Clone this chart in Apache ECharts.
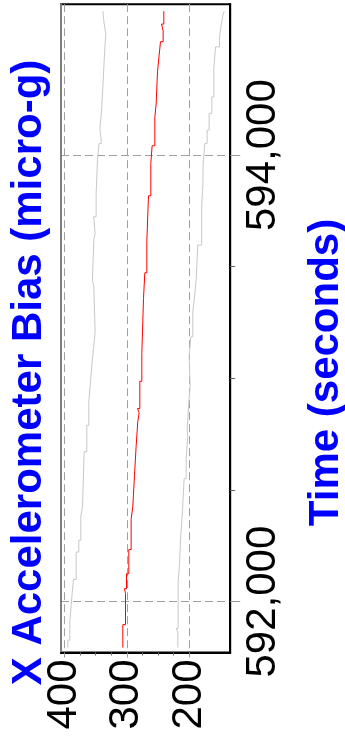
<!DOCTYPE html>
<html><head><meta charset="utf-8">
<script src="https://cdn.jsdelivr.net/npm/echarts@6/dist/echarts.min.js"></script>
<style>html,body{margin:0;padding:0;background:#fff}#c{width:345px;height:740px}</style>
</head><body><div id="c"></div>
<script>
// Axis ranges and tick labels
const timeTicks = [592000, 594000];
const biasTicks = [200, 300, 400];
const timeRange = [591772, 594676];
const biasRange = [134.6, 405.3];
const xTitle = 'Time (seconds)';
const yTitle = 'X Accelerometer Bias (micro-g)';

// Bias estimate (red): start time of each level, level (micro-g)
const estTimes = [591794, 591897, 592036, 592058, 592125, 592233, 592369, 592427, 592566, 592696, 592808, 592845, 592865, 592987, 593111, 593358, 593473, 593612, 593818, 593963, 594042, 594169, 594229, 594373, 594448, 594508, 594557, 594587];
const estLevels = [306.4, 302.1, 303.7, 300.5, 296.8, 293.1, 290.4, 287.7, 285.1, 282.4, 280.3, 282.9, 279.2, 276, 273.3, 271.2, 268, 265.3, 261.6, 259.5, 255.2, 253.1, 250.9, 248.3, 246.1, 241.9, 244.5, 240.8];
const endTime = 594645;

// Upper bound (grey)
const upTimes = [591794, 591827, 591909, 591983, 592036, 592099, 592222, 592275, 592382, 592427, 592671, 592790, 592895, 592984, 593074, 593149, 593208, 593410, 593440, 593622, 593649, 593724, 593828, 593981, 594052, 594067, 594120, 594194, 594329, 594456, 594545, 594590];
const upLevels = [394.4, 391.2, 389, 387.5, 385.3, 381.1, 376.8, 373.6, 370.9, 368.3, 364, 360.8, 358.1, 355.5, 352.8, 350.7, 352.8, 355, 352.8, 350.7, 353, 349.1, 346.9, 344.3, 341, 343.2, 340.5, 337.9, 335.7, 333.6, 336.3, 338.4];

// Lower bound (grey)
const loTimes = [591794, 591864, 591879, 592088, 592170, 592297, 592409, 592551, 592641, 592738, 592768, 592895, 592962, 593096, 593186, 593298, 593365, 593440, 593597, 593776, 593858, 593963, 594052, 594112, 594187, 594261, 594388, 594485, 594530, 594580, 594625];
const loLevels = [218.4, 221.1, 217.9, 215.7, 213.6, 210.9, 208.3, 205.1, 202.4, 203.5, 200.8, 198.7, 200.3, 197.6, 194.4, 191.7, 189.1, 186.4, 180.2, 178.4, 177.9, 175.2, 171.5, 168.3, 164, 160.8, 158.1, 151.7, 149.1, 146.4, 144.3];

function steps(times, levels, end) {
  const pts = [];
  for (let i = 0; i < times.length; i++) {
    const t1 = i + 1 < times.length ? times[i + 1] : end;
    pts.push([levels[i], times[i]], [levels[i], t1]);
  }
  return pts;
}

const FONT = '"Liberation Sans", Arial, sans-serif';
const G = { left: 61, top: 4.2, width: 169.2, height: 648.3 };
const bSpan = biasRange[1] - biasRange[0];
const tSpan = timeRange[1] - timeRange[0];
const bMin = biasTicks[0], bMax = biasTicks[biasTicks.length - 1];
const tMin = timeTicks[0], tMax = timeTicks[timeTicks.length - 1];
const g1 = { left: G.left + (biasRange[1] - bMax) / bSpan * G.width, width: (bMax - bMin) / bSpan * G.width, top: G.top, height: G.height };
const g2 = { left: G.left, width: G.width, top: G.top + (timeRange[1] - tMax) / tSpan * G.height, height: (tMax - tMin) / tSpan * G.height };

const gridDash = { color: '#a0a0a0', type: [8, 4], width: 1 };
const chart = echarts.init(document.getElementById('c'), null, { renderer: 'canvas' });
chart.setOption({
  animation: false,
  backgroundColor: '#fff',
  grid: [
    Object.assign({ show: true, borderColor: '#000', borderWidth: 2, backgroundColor: 'transparent', containLabel: false, outerBoundsMode: 'none' }, G),
    Object.assign({ containLabel: false, outerBoundsMode: 'none' }, g1),
    Object.assign({ containLabel: false, outerBoundsMode: 'none' }, g2)
  ],
  xAxis: [
    { gridIndex: 0, type: 'value', inverse: true, min: biasRange[0], max: biasRange[1], minInterval: 100, maxInterval: 100,
      axisLine: { show: true, lineStyle: { color: '#000', width: 2 } }, axisTick: { show: false }, axisLabel: { show: false },
      splitLine: { show: true, showMinLine: false, showMaxLine: false, lineStyle: gridDash } },
    { gridIndex: 1, type: 'value', inverse: true, min: bMin, max: bMax, interval: 100, position: 'bottom',
      axisLine: { show: false }, splitLine: { show: false },
      axisTick: { show: true, length: 5, lineStyle: { color: '#999', width: 1 } },
      minorTick: { show: true, splitNumber: 4, length: 3, lineStyle: { color: '#666', width: 1 } },
      axisLabel: { show: true, rotate: 90, margin: 7, fontSize: 42, color: '#000', fontFamily: FONT } },
    { gridIndex: 2, type: 'value', show: false, inverse: true, min: biasRange[0], max: biasRange[1] }
  ],
  yAxis: [
    { gridIndex: 0, type: 'value', position: 'right', min: timeRange[0], max: timeRange[1], minInterval: 2000, maxInterval: 2000,
      axisLine: { show: true, lineStyle: { color: '#000', width: 2 } }, axisTick: { show: false }, axisLabel: { show: false },
      splitLine: { show: true, showMinLine: false, showMaxLine: false, lineStyle: gridDash } },
    { gridIndex: 0, type: 'value', position: 'left', min: timeRange[0], max: timeRange[1],
      axisLine: { show: true, lineStyle: { color: '#808080', width: 2 } }, axisTick: { show: false }, axisLabel: { show: false }, splitLine: { show: false } },
    { gridIndex: 1, type: 'value', show: false, min: timeRange[0], max: timeRange[1] },
    { gridIndex: 2, type: 'value', position: 'right', min: tMin, max: tMax, interval: 2000,
      axisLine: { show: false }, splitLine: { show: false },
      axisTick: { show: true, length: 10, lineStyle: { color: '#999', width: 1 } },
      minorTick: { show: true, splitNumber: 4, length: 5, lineStyle: { color: '#666', width: 1 } },
      axisLabel: { show: true, rotate: 90, margin: 12, fontSize: 42, color: '#000', fontFamily: FONT,
        formatter: v => v.toLocaleString('en-US') } }
  ],
  graphic: [
    { type: 'text', x: 29, y: 372.5, rotation: Math.PI / 2, silent: true,
      style: { text: yTitle, fill: '#0000ff', font: 'bold 42px ' + FONT, align: 'center', verticalAlign: 'middle' } },
    { type: 'text', x: 326, y: 372.5, rotation: Math.PI / 2, silent: true,
      style: { text: xTitle, fill: '#0000ff', font: 'bold 42px ' + FONT, align: 'center', verticalAlign: 'middle' } }
  ],
  series: [
    { type: 'line', xAxisIndex: 0, yAxisIndex: 0, data: steps(upTimes, upLevels, endTime), showSymbol: false, symbol: 'none',
      lineStyle: { color: '#c8c8c8', width: 1 }, z: 2 },
    { type: 'line', xAxisIndex: 0, yAxisIndex: 0, data: steps(loTimes, loLevels, endTime), showSymbol: false, symbol: 'none',
      lineStyle: { color: '#c8c8c8', width: 1 }, z: 2 },
    { type: 'line', xAxisIndex: 0, yAxisIndex: 0, data: steps(estTimes, estLevels, endTime), showSymbol: false, symbol: 'none',
      lineStyle: { color: '#ff0000', width: 1 }, z: 3 }
  ]
});
</script></body></html>
